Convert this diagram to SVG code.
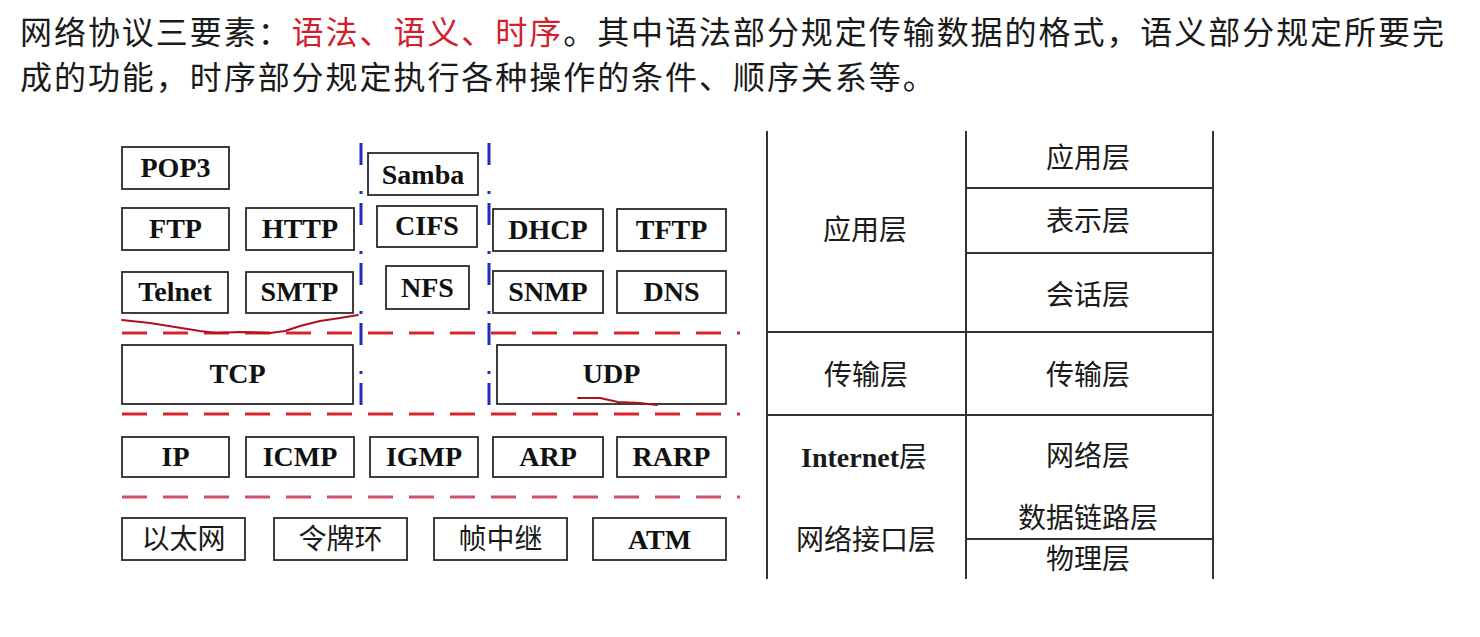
<svg xmlns="http://www.w3.org/2000/svg" width="1480" height="637" viewBox="0 0 1480 637">
  <style>
    .title { font-family: "Noto Sans CJK SC", "Noto Sans", sans-serif; font-size: 32px; letter-spacing: 1.95px; fill: #1a1a1a; }
    .hl { fill: #d2202c; }
    .box { fill: #ffffff; stroke: #2a2a2a; stroke-width: 1.8; }
    .lbl { font-family: "Liberation Serif", "Times New Roman", serif; font-weight: bold; font-size: 28px; fill: #111; text-anchor: middle; }
    .cjk { font-family: "Noto Sans CJK SC", sans-serif; font-size: 28px; fill: #1a1a1a; text-anchor: middle; }
    .tbl { stroke: #333; stroke-width: 2; fill: none; }
    .sep { stroke: #d9232d; stroke-width: 3; stroke-dasharray: 25 16; fill: none; }
    .sep2 { stroke: #d0506a; stroke-width: 3; stroke-dasharray: 25 16; fill: none; }
    .vdiv { stroke: #1f2fc0; stroke-width: 3; stroke-dasharray: 22 26 3 9; fill: none; }
    .ink { stroke: #b0101e; stroke-width: 2; fill: none; stroke-linejoin: round; stroke-linecap: round; }
  </style>
  <rect width="1480" height="637" fill="#ffffff"/>

  <!-- heading -->
  <text class="title" x="20" y="44">网络协议三要素：<tspan class="hl">语法、语义、时序</tspan>。其中语法部分规定传输数据的格式，语义部分规定所要完</text>
  <text class="title" x="20" y="89">成的功能，时序部分规定执行各种操作的条件、顺序关系等。</text>

  <!-- layer separators and column dividers -->
  <g id="connectors">
    <line class="sep" x1="122" y1="333" x2="740" y2="333"/>
    <line class="sep" x1="122" y1="414" x2="740" y2="414"/>
    <line class="sep2" x1="122" y1="497" x2="740" y2="497"/>
    <line class="vdiv" x1="361" y1="143" x2="361" y2="405"/>
    <line class="vdiv" x1="489" y1="143" x2="489" y2="405"/>
  </g>

  <!-- application protocols -->
  <g id="pop3"><rect class="box" x="122" y="147" width="107" height="42"/><text class="lbl" x="175.5" y="177">POP3</text></g>
  <g id="samba"><rect class="box" x="368" y="153" width="110" height="42"/><text class="lbl" x="423" y="184">Samba</text></g>
  <g id="ftp"><rect class="box" x="122" y="208" width="107" height="42"/><text class="lbl" x="175.5" y="238">FTP</text></g>
  <g id="http"><rect class="box" x="246" y="208" width="108" height="42"/><text class="lbl" x="300" y="238">HTTP</text></g>
  <g id="cifs"><rect class="box" x="377" y="206" width="100" height="41"/><text class="lbl" x="427" y="235">CIFS</text></g>
  <g id="dhcp"><rect class="box" x="493" y="209" width="110" height="42"/><text class="lbl" x="548" y="239">DHCP</text></g>
  <g id="tftp"><rect class="box" x="617" y="209" width="109" height="42"/><text class="lbl" x="671.5" y="239">TFTP</text></g>
  <g id="telnet"><rect class="box" x="122" y="272" width="106" height="41"/><text class="lbl" x="175" y="301">Telnet</text></g>
  <g id="smtp"><rect class="box" x="246" y="272" width="107" height="41"/><text class="lbl" x="299.5" y="301">SMTP</text></g>
  <g id="nfs"><rect class="box" x="386" y="266" width="83" height="43"/><text class="lbl" x="427.5" y="297">NFS</text></g>
  <g id="snmp"><rect class="box" x="493" y="271" width="110" height="42"/><text class="lbl" x="548" y="301">SNMP</text></g>
  <g id="dns"><rect class="box" x="617" y="271" width="109" height="42"/><text class="lbl" x="671.5" y="301">DNS</text></g>

  <!-- transport -->
  <g id="tcp"><rect class="box" x="122" y="345" width="231" height="59"/><text class="lbl" x="237.5" y="383">TCP</text></g>
  <g id="udp"><rect class="box" x="497" y="345" width="229" height="59"/><text class="lbl" x="611.5" y="383">UDP</text></g>

  <!-- internet -->
  <g id="ip"><rect class="box" x="122" y="437" width="107" height="40"/><text class="lbl" x="175.5" y="466">IP</text></g>
  <g id="icmp"><rect class="box" x="246" y="437" width="108" height="40"/><text class="lbl" x="300" y="466">ICMP</text></g>
  <g id="igmp"><rect class="box" x="370" y="437" width="108" height="40"/><text class="lbl" x="424" y="466">IGMP</text></g>
  <g id="arp"><rect class="box" x="493" y="437" width="110" height="40"/><text class="lbl" x="548" y="466">ARP</text></g>
  <g id="rarp"><rect class="box" x="617" y="437" width="109" height="40"/><text class="lbl" x="671.5" y="466">RARP</text></g>

  <!-- network interface -->
  <g id="ethernet"><rect class="box" x="122" y="518" width="123" height="42"/><text class="cjk" x="183.5" y="549">以太网</text></g>
  <g id="tokenring"><rect class="box" x="274" y="518" width="133" height="42"/><text class="cjk" x="340.5" y="549">令牌环</text></g>
  <g id="framerelay"><rect class="box" x="434" y="518" width="133" height="42"/><text class="cjk" x="500.5" y="549">帧中继</text></g>
  <g id="atm"><rect class="box" x="593" y="518" width="133" height="42"/><text class="lbl" x="659.5" y="549">ATM</text></g>

  <!-- hand-drawn underlines on top of the boxes -->
  <g id="annotations">
    <path class="ink" d="M122,320 L150,323 L175,327 L200,331 L215,333 L240,332 L270,333 L285,331 L300,326 L320,321 L340,318 L358,315"/>
    <path class="ink" d="M578,398 L600,398 L618,402 L640,403 L657,405"/>
  </g>

  <!-- TCP/IP vs OSI layer table -->
  <g id="layer-table">
    <line class="tbl" x1="767" y1="131" x2="767" y2="579"/>
    <line class="tbl" x1="966" y1="131" x2="966" y2="579"/>
    <line class="tbl" x1="1213" y1="131" x2="1213" y2="579"/>
    <line class="tbl" x1="966" y1="188" x2="1213" y2="188"/>
    <line class="tbl" x1="966" y1="253" x2="1213" y2="253"/>
    <line class="tbl" x1="767" y1="332" x2="1213" y2="332"/>
    <line class="tbl" x1="767" y1="415" x2="1213" y2="415"/>
    <line class="tbl" x1="966" y1="539" x2="1213" y2="539"/>

    <text class="cjk" x="1088" y="168">应用层</text>
    <text class="cjk" x="1088" y="231">表示层</text>
    <text class="cjk" x="1088" y="305">会话层</text>
    <text class="cjk" x="865" y="240">应用层</text>
    <text class="cjk" x="866" y="385">传输层</text>
    <text class="cjk" x="1088" y="385">传输层</text>
    <text class="cjk" x="864" y="467"><tspan font-family="Liberation Serif, serif" font-weight="bold">Internet</tspan>层</text>
    <text class="cjk" x="1088" y="466">网络层</text>
    <text class="cjk" x="1088" y="528">数据链路层</text>
    <text class="cjk" x="866" y="550">网络接口层</text>
    <text class="cjk" x="1088" y="569">物理层</text>
  </g>
</svg>
